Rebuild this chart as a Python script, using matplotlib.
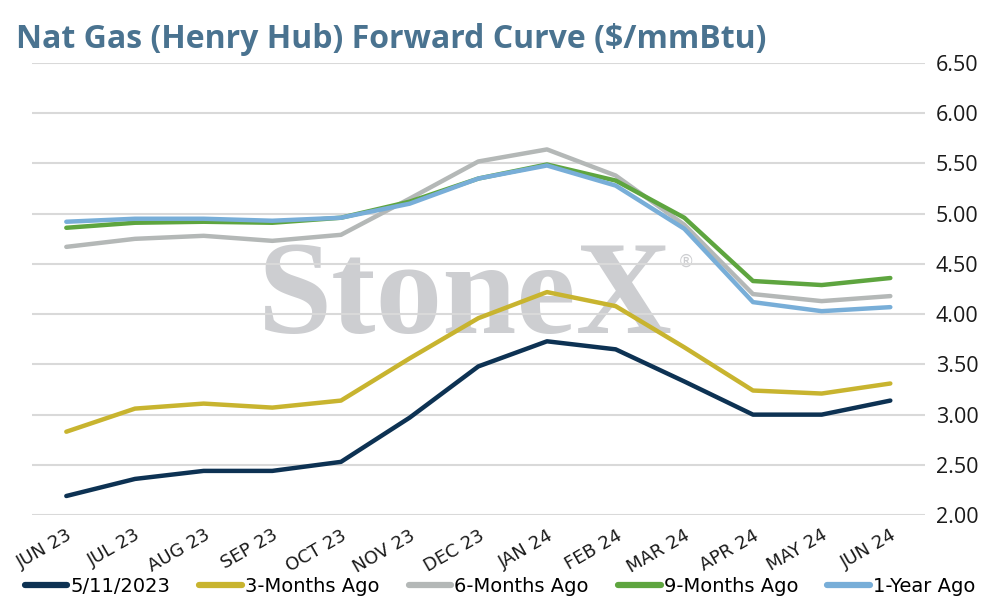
import matplotlib
matplotlib.use('Agg')
import matplotlib.pyplot as plt
import numpy as np

months = ['JUN 23', 'JUL 23', 'AUG 23', 'SEP 23', 'OCT 23', 'NOV 23', 'DEC 23',
          'JAN 24', 'FEB 24', 'MAR 24', 'APR 24', 'MAY 24', 'JUN 24']

curve_now = [2.19, 2.36, 2.44, 2.44, 2.53, 2.97, 3.48, 3.73, 3.65, 3.33, 3.00, 3.00, 3.14]
curve_3m = [2.83, 3.06, 3.11, 3.07, 3.14, 3.56, 3.96, 4.22, 4.08, 3.67, 3.24, 3.21, 3.31]
curve_6m = [4.67, 4.75, 4.78, 4.73, 4.79, 5.15, 5.52, 5.64, 5.38, 4.89, 4.20, 4.13, 4.18]
curve_9m = [4.86, 4.91, 4.92, 4.91, 4.96, 5.12, 5.35, 5.49, 5.33, 4.96, 4.33, 4.29, 4.36]
curve_1y = [4.92, 4.95, 4.95, 4.93, 4.96, 5.10, 5.35, 5.48, 5.28, 4.85, 4.12, 4.03, 4.07]

labels = ['5/11/2023', '3-Months Ago', '6-Months Ago', '9-Months Ago', '1-Year Ago']
colors = ['#0d3253', '#c8b42f', '#b4b8b7', '#5ea53f', '#78aed8']
y_ticks = [2.0, 2.5, 3.0, 3.5, 4.0, 4.5, 5.0, 5.5, 6.0, 6.5]

narrow = ['Liberation Sans Narrow', 'DejaVu Sans']

fig = plt.figure(figsize=(9.9, 6.06), dpi=100)
ax = fig.add_axes([0.0323, 0.150, 0.9017, 0.746])

x = np.arange(len(months))
for vals, lab, col in zip([curve_now, curve_3m, curve_6m, curve_9m, curve_1y], labels, colors):
    ax.plot(x, vals, color=col, lw=3.2, label=lab, solid_capstyle='round',
            solid_joinstyle='round', zorder=3)

ax.set_xlim(-0.5, len(months) - 0.5)
ax.set_ylim(2.0, 6.5)
ax.set_yticks(y_ticks)
ax.set_yticklabels([f'{v:.2f}' for v in y_ticks], fontsize=15.5, family=['Open Sans', 'DejaVu Sans'],
                   color='#1a1a1a')
ax.yaxis.tick_right()
ax.tick_params(axis='y', length=0, pad=8)
ax.grid(axis='y', color='#d9d9d9', lw=1.5, zorder=0)

ax.set_xticks(x)
ax.set_xticklabels(months, rotation=30, ha='right', va='top', rotation_mode='anchor',
                   fontsize=13, family=narrow, color='#1a1a1a')
ax.tick_params(axis='x', length=0, pad=8)

for s in ax.spines.values():
    s.set_visible(False)

# watermark
ax.text(0.485, 0.475, 'StoneX', transform=ax.transAxes, fontsize=96, fontweight='bold',
        family=['Liberation Serif', 'DejaVu Serif'], color='#cdced1', ha='center', va='center',
        zorder=1)
ax.text(0.733, 0.56, '®', transform=ax.transAxes, fontsize=12, color='#cdced1',
        ha='center', va='center', zorder=1)

fig.text(0.016, 0.935, 'Nat Gas (Henry Hub) Forward Curve ($/mmBtu)', fontsize=23,
         fontweight='bold', color='#4a7390', family=['Open Sans', 'DejaVu Sans'], va='center')

leg = fig.legend(loc='center', bbox_to_anchor=(0.505, 0.032), ncol=5, frameon=False,
                 prop={'family': narrow, 'size': 14}, handlelength=2.2, handletextpad=0.15,
                 columnspacing=1.5)
for h in leg.get_lines():
    h.set_linewidth(4.5)

fig.savefig('out.png', dpi=100)
